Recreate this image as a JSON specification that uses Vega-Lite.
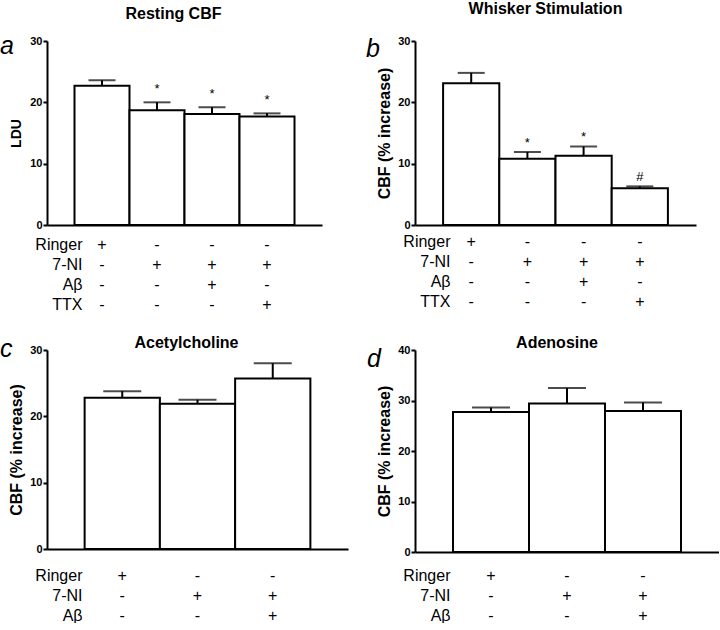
{
  "$schema": "https://vega.github.io/schema/vega-lite/v6.json",
  "padding": 0,
  "background": "white",
  "config": {
    "view": {"stroke": null},
    "font": "Liberation Sans",
    "title": {"fontSize": 16, "fontWeight": "bold", "color": "black", "frame": "group", "anchor": "middle", "baseline": "alphabetic"},
    "axis": {"grid": false, "domainColor": "black", "tickColor": "black", "labelColor": "black", "titleColor": "black"},
    "axisY": {"domainWidth": 2, "tickWidth": 2, "tickSize": 4, "tickCount": 3, "labelFontSize": 11, "labelFontWeight": "bold", "labelPadding": 1, "titleFontSize": 16, "titleFontWeight": "bold", "titlePadding": 5},
    "axisX": {"ticks": false, "domainWidth": 2, "labelFontSize": 16, "labelAngle": 0, "labelBaseline": "top", "labelLineHeight": 20, "labelOverlap": false, "titleFontSize": 16, "titleFontWeight": "normal", "titleAlign": "right", "titleBaseline": "top", "titleLineHeight": 20, "titleAngle": 0, "titleX": 35}
  },
  "datasets": {
    "a": [
      {"cond": "+ - - -", "mean": 22.7, "upper": 23.6, "sig": ""},
      {"cond": "- + - -", "mean": 18.7, "upper": 20.0, "sig": "*"},
      {"cond": "- + + -", "mean": 18.1, "upper": 19.2, "sig": "*"},
      {"cond": "- + - +", "mean": 17.7, "upper": 18.2, "sig": "*"}
    ],
    "b": [
      {"cond": "+ - - -", "mean": 23.1, "upper": 24.8, "sig": ""},
      {"cond": "- + - -", "mean": 10.8, "upper": 11.9, "sig": "*"},
      {"cond": "- + + -", "mean": 11.3, "upper": 12.8, "sig": "*"},
      {"cond": "- + - +", "mean": 6.0, "upper": 6.3, "sig": "#"}
    ],
    "c": [
      {"cond": "+ - -", "mean": 22.8, "upper": 23.8, "sig": ""},
      {"cond": "- + -", "mean": 21.9, "upper": 22.5, "sig": ""},
      {"cond": "- + +", "mean": 25.7, "upper": 28.0, "sig": ""}
    ],
    "d": [
      {"cond": "+ - -", "mean": 27.7, "upper": 28.6, "sig": ""},
      {"cond": "- + -", "mean": 29.4, "upper": 32.5, "sig": ""},
      {"cond": "- + +", "mean": 27.9, "upper": 29.6, "sig": ""}
    ]
  },
  "spacing": 23,
  "vconcat": [
    {
      "hconcat": [
        {
          "width": 275, "height": 184,
          "data": {"name": "a"},
          "title": {"text": "Resting CBF", "dx": -11, "offset": 12, "frame": "group"},
          "encoding": {
            "x": {"field": "cond", "type": "nominal", "sort": null, "scale": {"paddingInner": 0, "paddingOuter": 0.5},
                  "axis": {"title": ["Ringer", "7-NI", "Aβ", "TTX"], "labelExpr": "split(datum.value, ' ')", "labelPadding": 11, "titleY": 11}}
          },
          "layer": [
            {"mark": {"type": "bar", "fill": "white", "stroke": "black", "strokeWidth": 2},
             "encoding": {"y": {"field": "mean", "type": "quantitative", "title": "LDU", "axis": {"titleFontSize": 14, "titlePadding": 6}, "scale": {"domain": [0, 30], "nice": false}}}},
            {"mark": {"type": "rule", "strokeWidth": 2, "color": "black"},
             "encoding": {"y": {"field": "upper", "type": "quantitative", "title": "LDU"}, "y2": {"field": "mean"}}},
            {"mark": {"type": "tick", "orient": "horizontal", "size": 27, "thickness": 2, "color": "black"},
             "encoding": {"y": {"field": "upper", "type": "quantitative", "title": "LDU"}}},
            {"mark": {"type": "text", "baseline": "alphabetic", "dy": -9, "fontSize": 13, "color": "black"},
             "encoding": {"y": {"field": "upper", "type": "quantitative", "title": "LDU"}, "text": {"field": "sig"}}},
            {"data": {"values": [{"letter": "a"}]},
             "mark": {"type": "text", "fontSize": 25, "fontStyle": "italic", "align": "left", "baseline": "top", "dx": -74.5, "dy": -7.25, "color": "black"},
             "encoding": {"x": {"datum": "+ - - -", "bandPosition": 0}, "y": {"datum": 30}, "text": {"field": "letter"}}}
          ]
        },
        {
          "width": 281, "height": 184,
          "data": {"name": "b"},
          "title": {"text": "Whisker Stimulation", "dx": -10, "offset": 18.5, "frame": "group"},
          "encoding": {
            "x": {"field": "cond", "type": "nominal", "sort": null, "scale": {"paddingInner": 0, "paddingOuter": 0.5},
                  "axis": {"title": ["Ringer", "7-NI", "Aβ", "TTX"], "labelExpr": "split(datum.value, ' ')", "labelPadding": 8, "titleY": 8}}
          },
          "layer": [
            {"mark": {"type": "bar", "fill": "white", "stroke": "black", "strokeWidth": 2},
             "encoding": {"y": {"field": "mean", "type": "quantitative", "title": "CBF (% increase)", "scale": {"domain": [0, 30], "nice": false}}}},
            {"mark": {"type": "rule", "strokeWidth": 2, "color": "black"},
             "encoding": {"y": {"field": "upper", "type": "quantitative", "title": "CBF (% increase)"}, "y2": {"field": "mean"}}},
            {"mark": {"type": "tick", "orient": "horizontal", "size": 27, "thickness": 2, "color": "black"},
             "encoding": {"y": {"field": "upper", "type": "quantitative", "title": "CBF (% increase)"}}},
            {"mark": {"type": "text", "baseline": "alphabetic", "dy": -5, "fontSize": 13, "color": "black"},
             "encoding": {"y": {"field": "upper", "type": "quantitative", "title": "CBF (% increase)"}, "text": {"field": "sig"}}},
            {"data": {"values": [{"letter": "b"}]},
             "mark": {"type": "text", "fontSize": 25, "fontStyle": "italic", "align": "left", "baseline": "top", "dx": -77, "dy": -4.25, "color": "black"},
             "encoding": {"x": {"datum": "+ - - -", "bandPosition": 0}, "y": {"datum": 30}, "text": {"field": "letter"}}}
          ]
        }
      ],
      "bounds": "flush",
      "spacing": 93
    },
    {
      "hconcat": [
        {
          "width": 301, "height": 199,
          "data": {"name": "c"},
          "title": {"text": "Acetylcholine", "dx": -11, "offset": -14, "frame": "group"},
          "encoding": {
            "x": {"field": "cond", "type": "nominal", "sort": null, "scale": {"paddingInner": 0, "paddingOuter": 0.5},
                  "axis": {"title": ["Ringer", "7-NI", "Aβ"], "labelExpr": "split(datum.value, ' ')", "labelPadding": 18, "titleY": 18}}
          },
          "layer": [
            {"mark": {"type": "bar", "fill": "white", "stroke": "black", "strokeWidth": 2},
             "encoding": {"y": {"field": "mean", "type": "quantitative", "title": "CBF (% increase)", "scale": {"domain": [0, 30], "nice": false}}}},
            {"mark": {"type": "rule", "strokeWidth": 2, "color": "black"},
             "encoding": {"y": {"field": "upper", "type": "quantitative", "title": "CBF (% increase)"}, "y2": {"field": "mean"}}},
            {"mark": {"type": "tick", "orient": "horizontal", "size": 38, "thickness": 2, "color": "black"},
             "encoding": {"y": {"field": "upper", "type": "quantitative", "title": "CBF (% increase)"}}},
            {"data": {"values": [{"letter": "c"}]},
             "mark": {"type": "text", "fontSize": 25, "fontStyle": "italic", "align": "left", "baseline": "top", "dx": -84.6, "dy": -12.75, "color": "black"},
             "encoding": {"x": {"datum": "+ - -", "bandPosition": 0}, "y": {"datum": 30}, "text": {"field": "letter"}}}
          ]
        },
        {
          "width": 304, "height": 202,
          "data": {"name": "d"},
          "title": {"text": "Adenosine", "dx": -10, "offset": -7, "frame": "group"},
          "encoding": {
            "x": {"field": "cond", "type": "nominal", "sort": null, "scale": {"paddingInner": 0, "paddingOuter": 0.5},
                  "axis": {"title": ["Ringer", "7-NI", "Aβ"], "labelExpr": "split(datum.value, ' ')", "labelPadding": 15, "titleY": 15}}
          },
          "layer": [
            {"mark": {"type": "bar", "fill": "white", "stroke": "black", "strokeWidth": 2},
             "encoding": {"y": {"field": "mean", "type": "quantitative", "title": "CBF (% increase)", "scale": {"domain": [0, 40], "nice": false}}}},
            {"mark": {"type": "rule", "strokeWidth": 2, "color": "black"},
             "encoding": {"y": {"field": "upper", "type": "quantitative", "title": "CBF (% increase)"}, "y2": {"field": "mean"}}},
            {"mark": {"type": "tick", "orient": "horizontal", "size": 38, "thickness": 2, "color": "black"},
             "encoding": {"y": {"field": "upper", "type": "quantitative", "title": "CBF (% increase)"}}},
            {"data": {"values": [{"letter": "d"}]},
             "mark": {"type": "text", "fontSize": 25, "fontStyle": "italic", "align": "left", "baseline": "top", "dx": -86, "dy": -2.75, "color": "black"},
             "encoding": {"x": {"datum": "+ - -", "bandPosition": 0}, "y": {"datum": 40}, "text": {"field": "letter"}}}
          ]
        }
      ],
      "bounds": "flush",
      "spacing": 67
    }
  ]
}
